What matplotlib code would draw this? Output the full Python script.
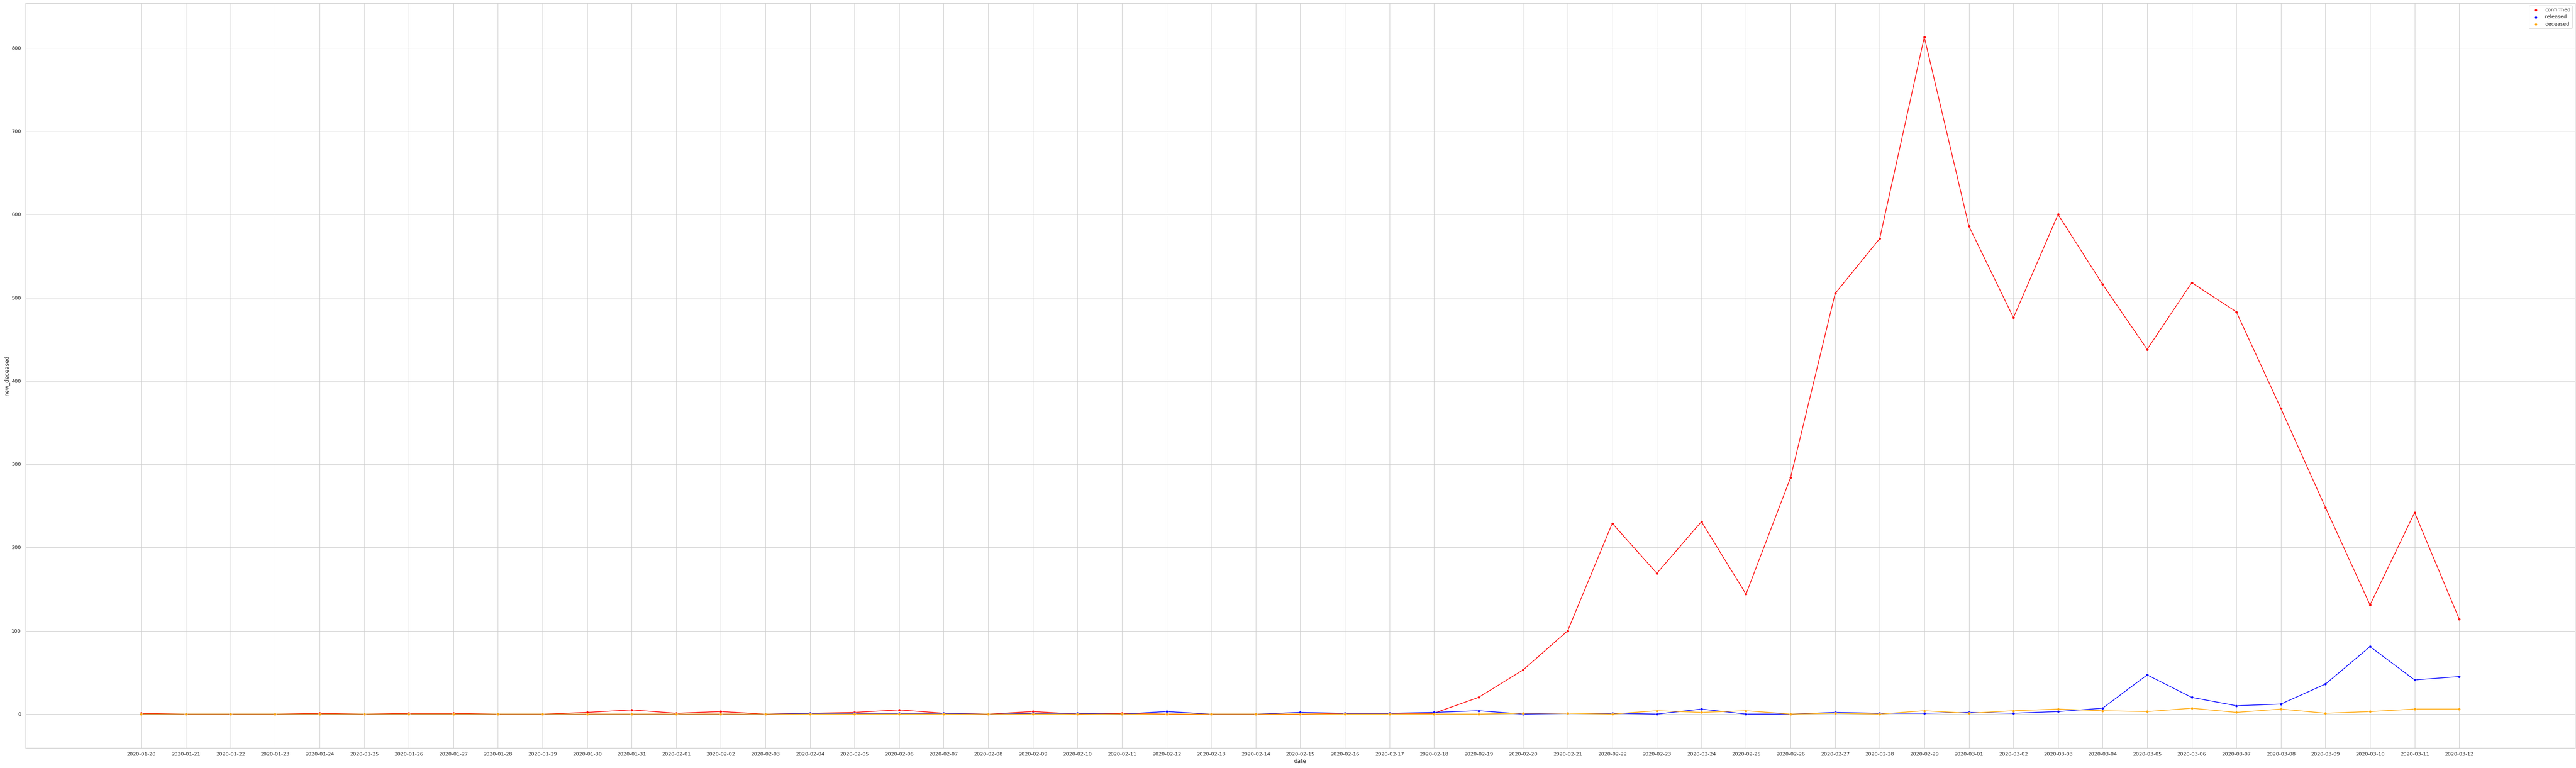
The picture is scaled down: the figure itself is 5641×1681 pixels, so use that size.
import matplotlib
matplotlib.use("Agg")
import matplotlib.pyplot as plt
import seaborn as sns
import pandas as pd

dates = [str(d.date()) for d in pd.date_range("2020-01-20", "2020-03-12", freq="D")]

confirmed = [1, 0, 0, 0, 1, 0, 1, 1, 0, 0,
             2, 5, 1, 3, 0, 1, 2, 5, 1, 0,
             3, 0, 1, 0, 0, 0, 0, 1, 1, 1,
             20, 53, 100, 229, 169, 231, 144, 284, 505, 571,
             813, 586, 476, 600, 516, 438, 518, 483, 367, 248,
             131, 242, 114]
released = [0, 0, 0, 0, 0, 0, 0, 0, 0, 0,
            0, 0, 0, 0, 0, 1, 1, 1, 1, 0,
            1, 1, 0, 3, 0, 0, 2, 1, 1, 2,
            4, 0, 1, 1, 0, 6, 0, 0, 2, 1,
            1, 2, 1, 3, 7, 47, 20, 10, 12, 36,
            81, 41, 45]
deceased = [0, 0, 0, 0, 0, 0, 0, 0, 0, 0,
            0, 0, 0, 0, 0, 0, 0, 0, 0, 0,
            0, 0, 0, 0, 0, 0, 0, 0, 0, 0,
            0, 1, 1, 0, 4, 2, 4, 0, 1, 0,
            4, 1, 4, 6, 4, 3, 7, 2, 6, 1,
            3, 6, 6]

series = [("confirmed", confirmed, "red"),
          ("released", released, "blue"),
          ("deceased", deceased, "orange")]

sns.set_theme(style="whitegrid")
plt.rcParams['font.family'] = ['DejaVu Sans']

W, H, DPI = 5641, 1681, 72
fig = plt.figure(figsize=(W / DPI, H / DPI), dpi=DPI)
left, right, top, bottom = 55.7, 5639, 7, 1637
ax = fig.add_axes([left / W, 1 - bottom / H, (right - left) / W, (bottom - top) / H])

for name, vals, col in series:
    ax.plot(dates, vals, color=col, linewidth=1.5)
for name, vals, col in series:
    ax.scatter(dates, vals, color=col, s=30, edgecolor="white", linewidth=0.4, label=name, zorder=3)

ax.set_xlabel("date")
ax.set_ylabel("new_deceased")
ax.legend(loc="upper right")

fig.savefig("out.png", dpi=DPI)
